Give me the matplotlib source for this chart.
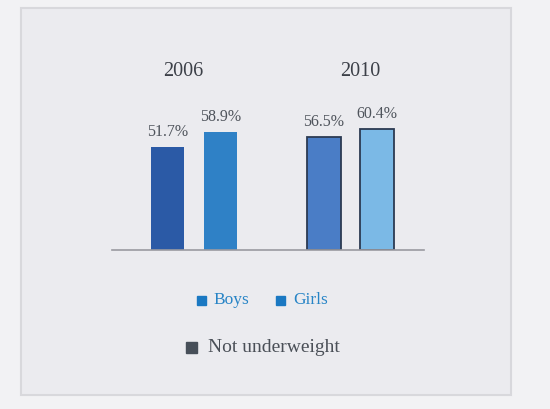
import matplotlib.pyplot as plt
from matplotlib.patches import Rectangle
import numpy as np

years = ['2006', '2010']
boys = [51.7, 56.5]
girls = [58.9, 60.4]
boy_colors = ['#2b5aa6', '#4a7dc6']
girl_colors = ['#2f81c6', '#7bb9e6']
edge_colors = ['none', '#2c3a52']

plt.rcParams['font.family'] = ['Liberation Serif', 'DejaVu Serif']

fig = plt.figure(figsize=(5.5, 4.09), dpi=100)
fig.patch.set_facecolor('#f2f2f4')

# framed panel
fig.patches.append(Rectangle((21 / 550, 1 - 395 / 409), 490 / 550, 387 / 409,
                             transform=fig.transFigure, facecolor='#ebebef',
                             edgecolor='#d8d8dc', lw=1.5, zorder=-1))

ax = fig.add_axes([112 / 550, 1 - 250 / 409, 312 / 550, 190 / 409])
ax.set_zorder(2)
ax.set_facecolor('none')
ax.set_xlim(-0.524, 1.47)
ax.set_ylim(0, 95)
for s in ['top', 'right', 'left']:
    ax.spines[s].set_visible(False)
ax.spines['bottom'].set_color('#9a9aa0')
ax.spines['bottom'].set_linewidth(1.2)
ax.set_xticks([])
ax.set_yticks([])

x = np.arange(len(years))
off = 0.17
w = 0.214
for i in range(len(years)):
    for xx, v, c in [(x[i] - off, boys[i], boy_colors[i]), (x[i] + off, girls[i], girl_colors[i])]:
        ax.bar(xx, v, width=w, color=c, edgecolor=edge_colors[i], linewidth=1.3)
        ax.annotate(f'{v}%', (xx, v), xytext=(0, 5), textcoords='offset points',
                    ha='center', va='bottom', fontsize=11.5, color='#4f545c')

year_shift = [-0.07, 0.06]
for i, yr in enumerate(years):
    ax.text(x[i] + year_shift[i], 89.5, yr, ha='center', va='center',
            fontsize=14.5, color='#3c4048', clip_on=False)

# legend
fig.patches.append(Rectangle((197 / 550, 1 - 305 / 409), 9 / 550, 9 / 409,
                             transform=fig.transFigure, color='#1a78c2', zorder=3))
fig.text(213 / 550, 1 - 300 / 409, 'Boys', fontsize=12.5, color='#2784c6', va='center')
fig.patches.append(Rectangle((276 / 550, 1 - 305 / 409), 9 / 550, 9 / 409,
                             transform=fig.transFigure, color='#1a78c2', zorder=3))
fig.text(293 / 550, 1 - 300 / 409, 'Girls', fontsize=12.5, color='#2784c6', va='center')
fig.patches.append(Rectangle((186 / 550, 1 - 353 / 409), 11 / 550, 11 / 409,
                             transform=fig.transFigure, color='#474f59', zorder=3))
fig.text(208 / 550, 1 - 348 / 409, 'Not underweight', fontsize=14, color='#4a4f57', va='center')

fig.savefig('out.png', dpi=100, facecolor=fig.get_facecolor())
